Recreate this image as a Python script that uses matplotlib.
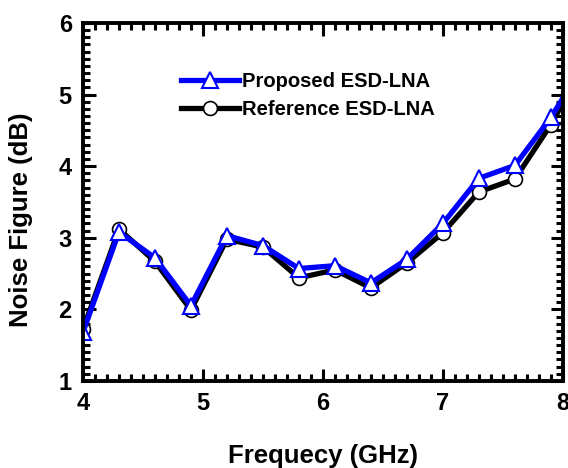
import numpy as np
import matplotlib.pyplot as plt
from matplotlib.ticker import MultipleLocator

plt.rcParams['font.family'] = 'Liberation Sans'
plt.rcParams['font.weight'] = 'bold'

# data
freq = [4.0, 4.3, 4.6, 4.9, 5.2, 5.5, 5.8, 6.1, 6.4, 6.7, 7.0, 7.3, 7.6, 7.9, 8.0]
nf_proposed = [1.68, 3.08, 2.72, 2.05, 3.03, 2.89, 2.57, 2.61, 2.37, 2.70, 3.20, 3.83, 4.01, 4.68, 4.95]
nf_reference = [1.72, 3.12, 2.67, 1.99, 2.98, 2.87, 2.44, 2.55, 2.30, 2.65, 3.07, 3.64, 3.82, 4.58, 4.88]

fig = plt.figure(figsize=(5.68, 4.68), dpi=100)
ax = fig.add_axes([0.146, 0.186, 0.845, 0.765])

mk = list(range(len(freq) - 1))  # last point only sets the line to the edge
ax.plot(freq, nf_reference, color='black', lw=3.8, marker='o', ms=10,
        mfc='white', mec='black', mew=1.2, markevery=mk, label='Reference ESD-LNA')
ax.plot(freq, nf_proposed, color='#0000ff', lw=3.8, marker='^', ms=12,
        mfc='white', mec='#0000ff', mew=1.5, markevery=mk, label='Proposed ESD-LNA')

ax.set_xlim(4, 8)
ax.set_ylim(1, 6)
ax.xaxis.set_major_locator(MultipleLocator(1))
ax.xaxis.set_minor_locator(MultipleLocator(0.1))
ax.yaxis.set_major_locator(MultipleLocator(1))
ax.yaxis.set_minor_locator(MultipleLocator(0.1))
ax.tick_params(which='both', direction='in', top=True, right=True, width=2.2)
ax.tick_params(which='major', length=9, labelsize=17, pad=8)
ax.tick_params(which='minor', length=5)
for s in ax.spines.values():
    s.set_linewidth(2.8)

ax.set_xlabel('Frequecy (GHz)', fontsize=18.5, fontweight='bold', labelpad=21)
ax.set_ylabel('Noise Figure (dB)', fontsize=18.5, fontweight='bold')
ax.yaxis.set_label_coords(-0.104, 0.45)

h, l = ax.get_legend_handles_labels()
ax.legend(h[::-1], l[::-1], loc='upper left', bbox_to_anchor=(0.204, 0.862),
          frameon=False, handlelength=2.9, handletextpad=0.15,
          borderpad=0, borderaxespad=0, labelspacing=0.42,
          prop={'weight': 'bold', 'size': 14.5})

fig.savefig('out.png', dpi=100)
